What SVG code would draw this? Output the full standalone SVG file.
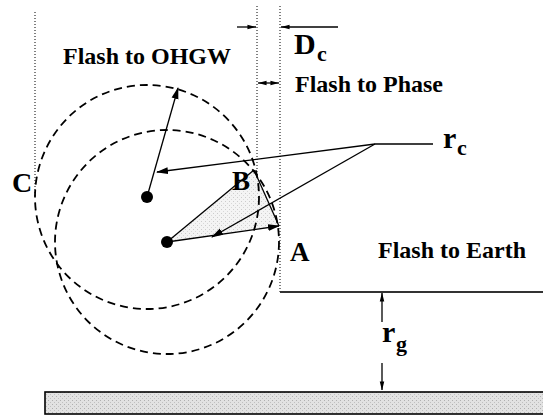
<svg xmlns="http://www.w3.org/2000/svg" width="543" height="417" viewBox="0 0 543 417">
<style>
.lbl{font-family:"Liberation Serif","Times New Roman",serif;font-weight:bold;fill:#000}
.big{font-size:24px}
.dot{stroke:#000;stroke-width:1;stroke-dasharray:1 2;fill:none}
.dash{stroke:#000;stroke-width:1.8;stroke-dasharray:8 5;fill:none}
.ln{stroke:#000;stroke-width:1.3;fill:none}
</style>
<defs>
<marker id="ah" viewBox="0 0 12 8" refX="11" refY="4" markerWidth="12" markerHeight="8" markerUnits="userSpaceOnUse" orient="auto-start-reverse">
<path d="M0,0.5 L12,4 L0,7.5 z" fill="#000"/>
</marker>
<marker id="ahs" viewBox="0 0 10 6" refX="9.5" refY="3" markerWidth="9" markerHeight="6" markerUnits="userSpaceOnUse" orient="auto-start-reverse">
<path d="M0,0.5 L10,3 L0,5.5 z" fill="#000"/>
</marker>
<pattern id="stip" width="4" height="4" patternUnits="userSpaceOnUse">
<rect width="4" height="4" fill="#e2e2e2"/>
<rect x="0" y="0" width="1" height="1" fill="#b0b0b0"/>
<rect x="2" y="2" width="1" height="1" fill="#c0c0c0"/>
</pattern>
<pattern id="stip2" width="4" height="4" patternUnits="userSpaceOnUse">
<rect width="4" height="4" fill="#f4f4f4"/>
<rect x="1" y="1" width="1" height="1" fill="#cccccc"/>
<rect x="3" y="3" width="1" height="1" fill="#d8d8d8"/>
</pattern>
</defs>

<g id="guides">
<line class="dot" x1="35" y1="12" x2="35" y2="196"/>
<line class="dot" x1="257" y1="6" x2="257" y2="192"/>
<line class="dot" x1="280" y1="6" x2="280" y2="292"/>
</g>

<g id="triangle">
<polygon points="167,242 254,170 279,226" fill="url(#stip2)" stroke="none"/>
</g>

<g id="ohgw">
<circle class="dash" cx="147" cy="197" r="112"/>
<circle cx="147" cy="197" r="6" fill="#000"/>
</g>

<g id="phase">
<circle class="dash" cx="167" cy="242" r="112"/>
<circle cx="167" cy="242" r="6" fill="#000"/>
</g>

<g id="earth">
<line x1="280" y1="292" x2="543" y2="292" stroke="#333" stroke-width="1.8"/>
<rect x="45" y="392" width="500" height="22" fill="url(#stip)" stroke="#000" stroke-width="1.6"/>
</g>

<g id="connectors">
<line class="ln" x1="147" y1="197" x2="178" y2="88" marker-end="url(#ah)" stroke-width="1.6"/>
<line class="ln" x1="167" y1="242" x2="254" y2="170"/>
<line class="ln" x1="254" y1="170" x2="279" y2="226"/>
<line class="ln" x1="167" y1="242" x2="279" y2="226" marker-end="url(#ah)" stroke-width="1.6"/>
<polyline class="ln" points="433,144 375,144 157,172" marker-end="url(#ah)"/>
<line class="ln" x1="375" y1="144" x2="212" y2="237" marker-end="url(#ah)"/>
<line class="ln" x1="237" y1="27" x2="256" y2="27" marker-end="url(#ahs)"/>
<line class="ln" x1="338" y1="27" x2="281" y2="27" marker-end="url(#ahs)"/>
<line class="ln" x1="258" y1="83" x2="279" y2="83" marker-start="url(#ahs)" marker-end="url(#ahs)"/>
<line class="ln" x1="382" y1="322" x2="382" y2="293" marker-end="url(#ahs)"/>
<line class="ln" x1="382" y1="363" x2="382" y2="390" marker-end="url(#ahs)"/>
</g>

<g id="labels">
<text class="lbl big" x="63" y="64">Flash to OHGW</text>
<text class="lbl big" x="295" y="92">Flash to Phase</text>
<text class="lbl big" x="378" y="258">Flash to Earth</text>
<text class="lbl" x="294" y="54" font-size="30">D</text>
<text class="lbl" x="317" y="61" font-size="22">c</text>
<text class="lbl" x="443" y="148" font-size="30">r</text>
<text class="lbl" x="457" y="155" font-size="22">c</text>
<text class="lbl" x="382" y="342" font-size="30">r</text>
<text class="lbl" x="396" y="351" font-size="22">g</text>
<text class="lbl" x="12" y="192" font-size="28">C</text>
<text class="lbl" x="232" y="190" font-size="27">B</text>
<text class="lbl" x="290" y="261" font-size="27">A</text>
</g>
</svg>
